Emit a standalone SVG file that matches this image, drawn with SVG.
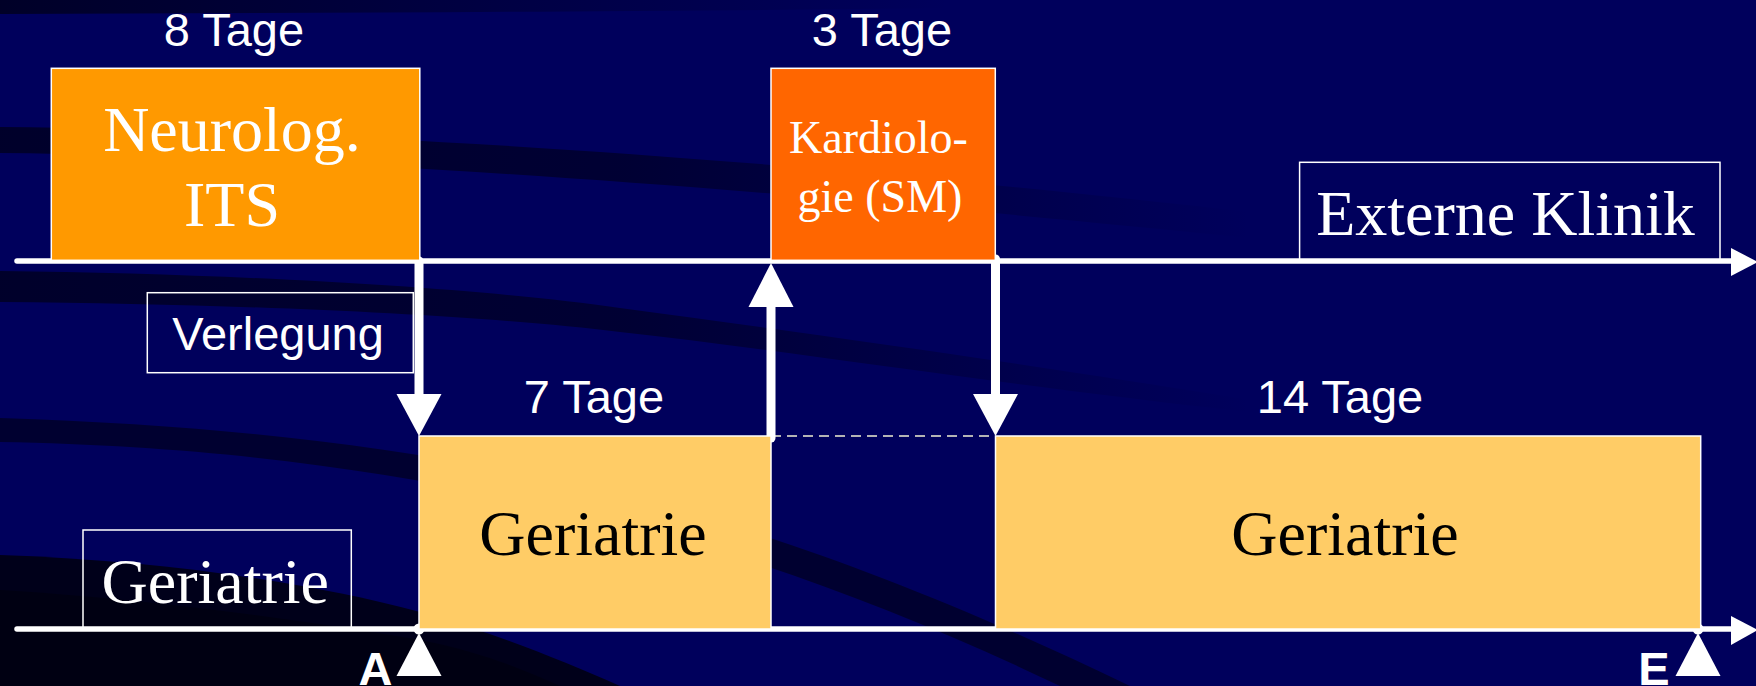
<svg xmlns="http://www.w3.org/2000/svg" width="1756" height="686" viewBox="0 0 1756 686">
  <defs>
    <style>
      .sans { font-family: "Liberation Sans", Arial, sans-serif; fill: #ffffff; font-size: 47px; text-anchor: middle; }
      .bold { font-weight: bold; }
      .serif { font-family: "Liberation Serif", "Times New Roman", serif; text-anchor: middle; }
      .w { fill: #ffffff; }
      .k { fill: #000000; }
      .frame { fill: none; stroke: #ffffff; stroke-width: 1.5; }
      .box { stroke: #ffffff; stroke-width: 1.5; }
      .axis { stroke: #ffffff; stroke-width: 5.5; stroke-linecap: round; fill: none; }
      .shaft { stroke: #ffffff; stroke-width: 9; stroke-linecap: round; fill: none; }
      .head { fill: #ffffff; }
    </style>
    <linearGradient id="fadeA" x1="0" y1="0" x2="1" y2="0">
      <stop offset="0" stop-color="#000022" stop-opacity="0.85"/>
      <stop offset="0.5" stop-color="#000022" stop-opacity="0.7"/>
      <stop offset="1" stop-color="#000022" stop-opacity="0"/>
    </linearGradient>
    <linearGradient id="fadeTop" x1="0" y1="0" x2="1" y2="0">
      <stop offset="0" stop-color="#000022" stop-opacity="0.9"/>
      <stop offset="1" stop-color="#000022" stop-opacity="0"/>
    </linearGradient>
  </defs>

  <!-- background with dark swooshes -->
  <rect x="0" y="0" width="1756" height="686" fill="#00005c"/>
  <path d="M0,0 L950,0 L950,8 C600,12 300,13 0,14 Z" fill="url(#fadeTop)"/>
  <path d="M0,127 C300,130 700,150 1250,212 L1250,238 C700,182 300,156 0,153 Z" fill="url(#fadeA)"/>
  <path d="M0,271 C250,274 480,288 620,308 C800,332 1000,360 1250,400 L1250,412 C1000,385 800,352 620,332 C480,315 250,304 0,302 Z" fill="url(#fadeA)"/>
  <path d="M0,418 C220,425 380,445 560,480 C720,515 900,575 1130,686 L1060,686 C880,600 720,545 560,508 C380,470 220,446 0,442 Z" fill="#000026" opacity="0.8"/>
  <path d="M0,555 C150,560 300,580 420,612 C500,635 560,660 620,686 L0,686 Z" fill="#00001a"/>
  <path d="M0,590 C160,600 300,620 420,640 C480,652 520,668 560,686 L0,686 Z" fill="#000012"/>

  <!-- connectors: time axes, transfer arrows, markers -->
  <g id="connectors">
    <line class="axis" x1="17" y1="261" x2="1736" y2="261"/>
    <polygon class="head" points="1731,248 1758,262 1731,276"/>
    <line class="axis" x1="17" y1="629" x2="1736" y2="629"/>
    <polygon class="head" points="1731,616 1758,630 1731,645"/>

    <line x1="771" y1="436" x2="995" y2="436" stroke="#b4b4b4" stroke-width="2" stroke-dasharray="10 6"/>

    <line class="shaft" x1="419" y1="261" x2="419" y2="396"/>
    <polygon class="head" points="396.5,394 441.5,394 419,436"/>

    <line class="shaft" x1="771" y1="438" x2="771" y2="305"/>
    <polygon class="head" points="748.5,307 793.5,307 771,263"/>

    <line class="shaft" x1="995.5" y1="259" x2="995.5" y2="396"/>
    <polygon class="head" points="973,394 1018,394 995.5,436"/>

    <circle cx="419" cy="629" r="5.5" fill="#ffffff"/>
    <polygon class="head" points="396.5,676 441.5,676 419,633"/>
    <circle cx="1698" cy="629" r="5.5" fill="#ffffff"/>
    <polygon class="head" points="1675.5,676 1720.5,676 1698,633"/>
  </g>

  <g id="neuro-its">
    <rect class="box" x="51.3" y="68.3" width="368.5" height="192" fill="#ff9900"/>
    <text class="serif w" x="232" y="150.7" font-size="64">Neurolog.</text>
    <text class="serif w" x="232" y="225.7" font-size="64">ITS</text>
  </g>
  <text class="sans" x="234" y="45.7">8 Tage</text>

  <g id="kardiologie">
    <rect class="box" x="771" y="68.3" width="224.3" height="192" fill="#ff6600"/>
    <text class="serif w" x="878.5" y="153.3" font-size="46">Kardiolo-</text>
    <text class="serif w" x="880" y="211.7" font-size="46">gie (SM)</text>
  </g>
  <text class="sans" x="882" y="45.7">3 Tage</text>

  <g id="externe-klinik">
    <rect class="frame" x="1299.6" y="162.3" width="420.4" height="98.5"/>
    <text class="serif w" x="1505.5" y="235" font-size="64">Externe Klinik</text>
  </g>

  <g id="verlegung">
    <rect class="frame" x="147.3" y="292.7" width="266" height="80"/>
    <text class="sans" x="278" y="350">Verlegung</text>
  </g>

  <g id="geriatrie-label">
    <rect class="frame" x="83" y="530" width="268.3" height="99"/>
    <text class="serif w" x="215.3" y="603.3" font-size="64">Geriatrie</text>
  </g>

  <g id="geriatrie-1">
    <rect class="box" x="419" y="436" width="352" height="193" fill="#ffcc66" stroke-width="1"/>
    <text class="serif k" x="593" y="555" font-size="64">Geriatrie</text>
  </g>
  <text class="sans" x="594" y="413">7 Tage</text>

  <g id="geriatrie-2">
    <rect class="box" x="995.5" y="436" width="705.2" height="193" fill="#ffcc66" stroke-width="1"/>
    <text class="serif k" x="1345" y="555" font-size="64">Geriatrie</text>
  </g>
  <text class="sans" x="1340" y="413.3">14 Tage</text>

  <text class="sans bold" x="375.5" y="685">A</text>
  <text class="sans bold" x="1654" y="685">E</text>
</svg>
